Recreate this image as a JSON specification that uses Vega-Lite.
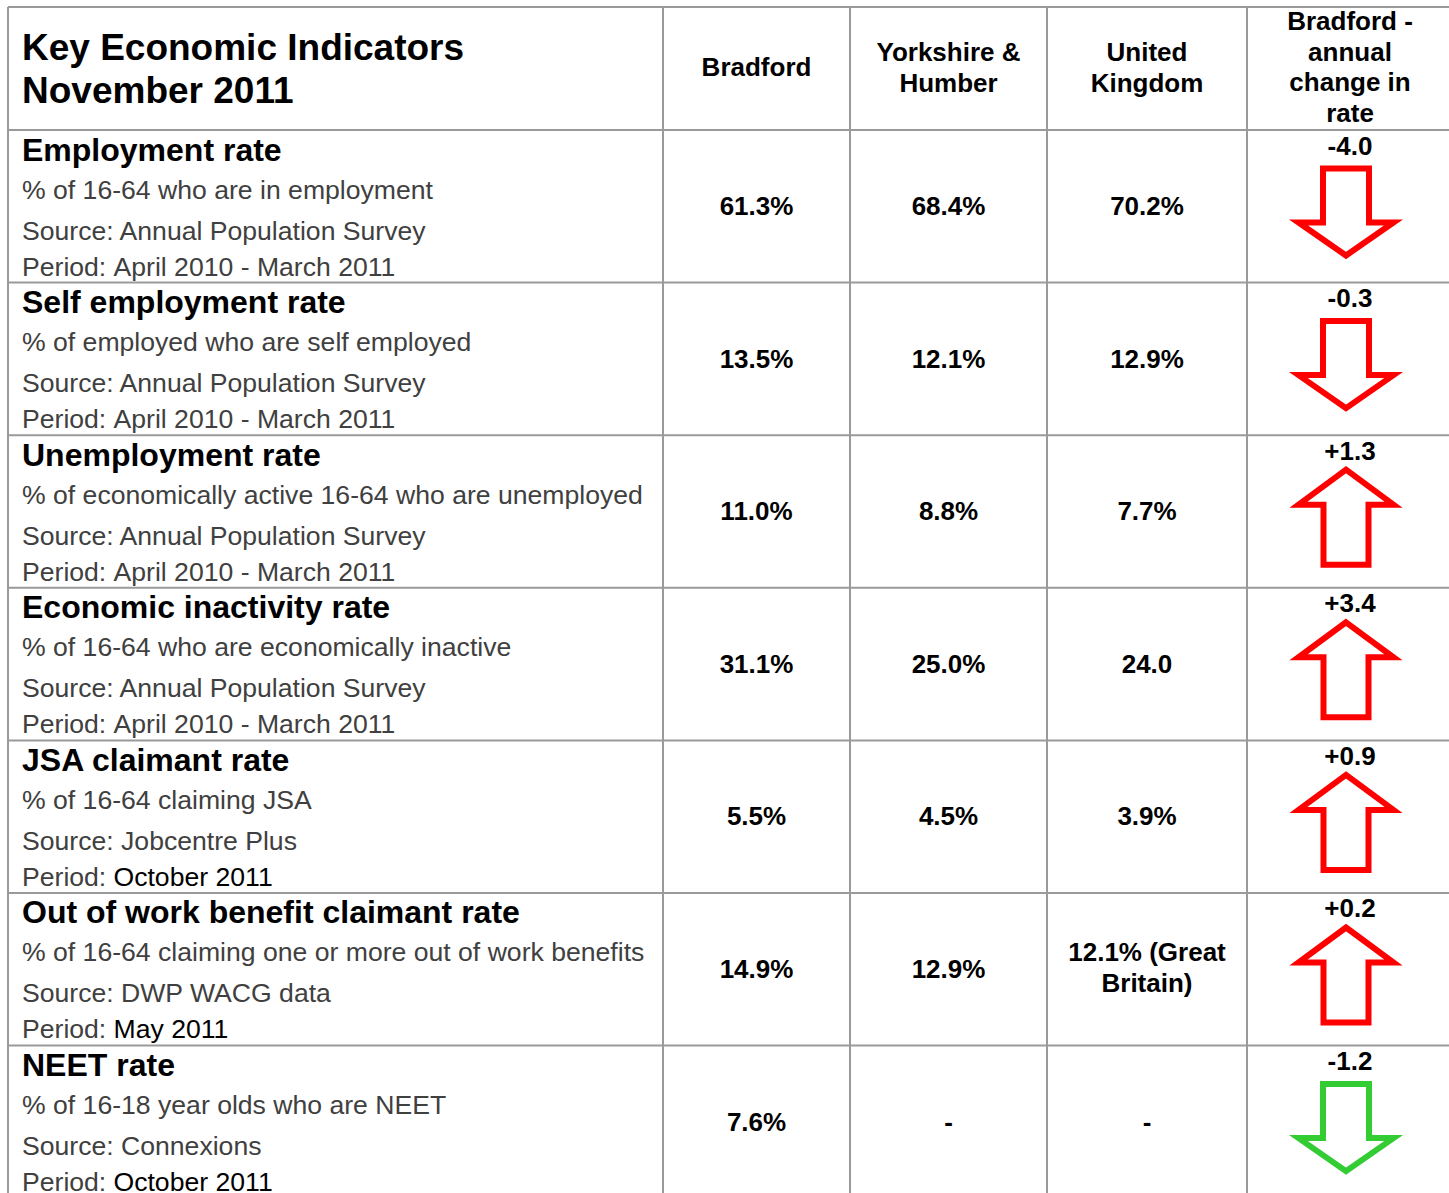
{
  "$schema": "https://vega.github.io/schema/vega-lite/v6.json",
  "width": 1449,
  "height": 1193,
  "autosize": {"type": "none"},
  "padding": 0,
  "background": "white",
  "config": {"view": {"stroke": null}, "text": {"font": "Liberation Sans"}},
  "datasets": {
    "columns": [
      {"column": "Indicator", "left": 8, "center": 335, "header": ["Key Economic Indicators", "November 2011"]},
      {"column": "Bradford", "left": 663, "center": 756.5, "header": ["Bradford"]},
      {"column": "Yorkshire & Humber", "left": 850, "center": 948.5, "header": ["Yorkshire &", "Humber"]},
      {"column": "United Kingdom", "left": 1047, "center": 1147, "header": ["United", "Kingdom"]},
      {"column": "change", "left": 1247, "center": 1350, "header": ["Bradford -", "annual", "change in", "rate"]}
    ],
    "rules": [
      {"x": 8, "x2": 1449, "y": 0.194, "y2": 0.194},
      {"x": 8, "x2": 1449, "y": 1, "y2": 1},
      {"x": 8, "x2": 1449, "y": 2, "y2": 2},
      {"x": 8, "x2": 1449, "y": 3, "y2": 3},
      {"x": 8, "x2": 1449, "y": 4, "y2": 4},
      {"x": 8, "x2": 1449, "y": 5, "y2": 5},
      {"x": 8, "x2": 1449, "y": 6, "y2": 6},
      {"x": 8, "x2": 1449, "y": 7, "y2": 7},
      {"x": 8, "x2": 8, "y": 0.194, "y2": 7.966},
      {"x": 663, "x2": 663, "y": 0.194, "y2": 7.966},
      {"x": 850, "x2": 850, "y": 0.194, "y2": 7.966},
      {"x": 1047, "x2": 1047, "y": 0.194, "y2": 7.966},
      {"x": 1247, "x2": 1247, "y": 0.194, "y2": 7.966}
    ],
    "indicators": [
      {"row": 1, "title": "Employment rate", "desc": "% of 16-64 who are in employment", "source": "Source: Annual Population Survey", "period": "April 2010 - March 2011", "Bradford": "61.3%", "Yorkshire & Humber": "68.4%", "United Kingdom": "70.2%", "change": "-4.0", "direction": "down", "assessment": "worse"},
      {"row": 2, "title": "Self employment rate", "desc": "% of employed who are self employed", "source": "Source: Annual Population Survey", "period": "April 2010 - March 2011", "Bradford": "13.5%", "Yorkshire & Humber": "12.1%", "United Kingdom": "12.9%", "change": "-0.3", "direction": "down", "assessment": "worse"},
      {"row": 3, "title": "Unemployment rate", "desc": "% of economically active 16-64 who are unemployed", "source": "Source: Annual Population Survey", "period": "April 2010 - March 2011", "Bradford": "11.0%", "Yorkshire & Humber": "8.8%", "United Kingdom": "7.7%", "change": "+1.3", "direction": "up", "assessment": "worse"},
      {"row": 4, "title": "Economic inactivity rate", "desc": "% of 16-64 who are economically inactive", "source": "Source: Annual Population Survey", "period": "April 2010 - March 2011", "Bradford": "31.1%", "Yorkshire & Humber": "25.0%", "United Kingdom": "24.0", "change": "+3.4", "direction": "up", "assessment": "worse"},
      {"row": 5, "title": "JSA claimant rate", "desc": "% of 16-64 claiming JSA", "source": "Source: Jobcentre Plus", "period": "October 2011", "Bradford": "5.5%", "Yorkshire & Humber": "4.5%", "United Kingdom": "3.9%", "change": "+0.9", "direction": "up", "assessment": "worse"},
      {"row": 6, "title": "Out of work benefit claimant rate", "desc": "% of 16-64 claiming one or more out of work benefits", "source": "Source: DWP WACG data", "period": "May 2011", "Bradford": "14.9%", "Yorkshire & Humber": "12.9%", "United Kingdom": ["12.1% (Great", "Britain)"], "change": "+0.2", "direction": "up", "assessment": "worse"},
      {"row": 7, "title": "NEET rate", "desc": "% of 16-18 year olds who are NEET", "source": "Source: Connexions", "period": "October 2011", "Bradford": "7.6%", "Yorkshire & Humber": "-", "United Kingdom": "-", "change": "-1.2", "direction": "down", "assessment": "better"}
    ]
  },
  "layer": [
    {
      "data": {"name": "rules"},
      "mark": {"type": "rule", "stroke": "#9a9a9a", "strokeWidth": 2},
      "encoding": {
        "x": {"field": "x", "type": "quantitative", "scale": {"domain": [0, 1449], "nice": false, "zero": false}, "axis": null},
        "x2": {"field": "x2"},
        "y": {"field": "y", "type": "quantitative", "scale": {"domain": [0.148, 7.966], "nice": false, "zero": false, "reverse": true}, "axis": null},
        "y2": {"field": "y2"}
      }
    },
    {
      "data": {"name": "columns"},
      "transform": [{"filter": "datum.column === 'Indicator'"}],
      "mark": {"type": "text", "align": "left", "baseline": "middle", "fontSize": 37, "fontWeight": "bold", "lineHeight": 43, "xOffset": 14, "yOffset": -81, "color": "#000000"},
      "encoding": {
        "x": {"field": "left", "type": "quantitative", "scale": {"domain": [0, 1449], "nice": false, "zero": false}, "axis": null},
        "y": {"datum": 1, "type": "quantitative", "scale": {"domain": [0.148, 7.966], "nice": false, "zero": false, "reverse": true}, "axis": null},
        "text": {"field": "header"}
      }
    },
    {
      "data": {"name": "columns"},
      "transform": [{"filter": "datum.column !== 'Indicator' && length(datum.header) == 1"}],
      "mark": {"type": "text", "align": "center", "baseline": "middle", "fontSize": 26, "fontWeight": "bold", "lineHeight": 30.5, "yOffset": -62, "color": "#000000"},
      "encoding": {
        "x": {"field": "center", "type": "quantitative", "scale": {"domain": [0, 1449], "nice": false, "zero": false}, "axis": null},
        "y": {"datum": 1, "type": "quantitative", "scale": {"domain": [0.148, 7.966], "nice": false, "zero": false, "reverse": true}, "axis": null},
        "text": {"field": "header"}
      }
    },
    {
      "data": {"name": "columns"},
      "transform": [{"filter": "datum.column !== 'Indicator' && length(datum.header) == 2"}],
      "mark": {"type": "text", "align": "center", "baseline": "middle", "fontSize": 26, "fontWeight": "bold", "lineHeight": 30.5, "yOffset": -77, "color": "#000000"},
      "encoding": {
        "x": {"field": "center", "type": "quantitative", "scale": {"domain": [0, 1449], "nice": false, "zero": false}, "axis": null},
        "y": {"datum": 1, "type": "quantitative", "scale": {"domain": [0.148, 7.966], "nice": false, "zero": false, "reverse": true}, "axis": null},
        "text": {"field": "header"}
      }
    },
    {
      "data": {"name": "columns"},
      "transform": [{"filter": "datum.column !== 'Indicator' && length(datum.header) == 4"}],
      "mark": {"type": "text", "align": "center", "baseline": "middle", "fontSize": 26, "fontWeight": "bold", "lineHeight": 30.5, "yOffset": -108, "color": "#000000"},
      "encoding": {
        "x": {"field": "center", "type": "quantitative", "scale": {"domain": [0, 1449], "nice": false, "zero": false}, "axis": null},
        "y": {"datum": 1, "type": "quantitative", "scale": {"domain": [0.148, 7.966], "nice": false, "zero": false, "reverse": true}, "axis": null},
        "text": {"field": "header"}
      }
    },
    {
      "data": {"name": "indicators"},
      "mark": {"type": "text", "align": "left", "baseline": "middle", "fontSize": 32, "fontWeight": "bold", "xOffset": 14, "yOffset": 20.5, "color": "#000000"},
      "encoding": {
        "x": {"datum": 8, "type": "quantitative", "scale": {"domain": [0, 1449], "nice": false, "zero": false}, "axis": null},
        "y": {"field": "row", "type": "quantitative", "scale": {"domain": [0.148, 7.966], "nice": false, "zero": false, "reverse": true}, "axis": null},
        "text": {"field": "title"}
      }
    },
    {
      "data": {"name": "indicators"},
      "mark": {"type": "text", "align": "left", "baseline": "middle", "fontSize": 26.6, "xOffset": 14, "yOffset": 60.5, "color": "#404040"},
      "encoding": {
        "x": {"datum": 8, "type": "quantitative", "scale": {"domain": [0, 1449], "nice": false, "zero": false}, "axis": null},
        "y": {"field": "row", "type": "quantitative", "scale": {"domain": [0.148, 7.966], "nice": false, "zero": false, "reverse": true}, "axis": null},
        "text": {"field": "desc"}
      }
    },
    {
      "data": {"name": "indicators"},
      "mark": {"type": "text", "align": "left", "baseline": "middle", "fontSize": 26.6, "xOffset": 14, "yOffset": 101.5, "color": "#404040"},
      "encoding": {
        "x": {"datum": 8, "type": "quantitative", "scale": {"domain": [0, 1449], "nice": false, "zero": false}, "axis": null},
        "y": {"field": "row", "type": "quantitative", "scale": {"domain": [0.148, 7.966], "nice": false, "zero": false, "reverse": true}, "axis": null},
        "text": {"field": "source"}
      }
    },
    {
      "data": {"name": "indicators"},
      "mark": {"type": "text", "align": "left", "baseline": "middle", "fontSize": 26.6, "xOffset": 14, "yOffset": 137.5, "color": "#404040"},
      "encoding": {
        "x": {"datum": 8, "type": "quantitative", "scale": {"domain": [0, 1449], "nice": false, "zero": false}, "axis": null},
        "y": {"field": "row", "type": "quantitative", "scale": {"domain": [0.148, 7.966], "nice": false, "zero": false, "reverse": true}, "axis": null},
        "text": {"value": "Period:"}
      }
    },
    {
      "data": {"name": "indicators"},
      "mark": {"type": "text", "align": "left", "baseline": "middle", "fontSize": 26.6, "xOffset": 105.5, "yOffset": 137.5},
      "encoding": {
        "x": {"datum": 8, "type": "quantitative", "scale": {"domain": [0, 1449], "nice": false, "zero": false}, "axis": null},
        "y": {"field": "row", "type": "quantitative", "scale": {"domain": [0.148, 7.966], "nice": false, "zero": false, "reverse": true}, "axis": null},
        "text": {"field": "period"},
        "color": {"condition": {"test": "indexof(datum.source, 'Annual Population Survey') >= 0", "value": "#404040"}, "value": "#000000"}
      }
    },
    {
      "data": {"name": "indicators"},
      "transform": [
        {"fold": ["Bradford", "Yorkshire & Humber", "United Kingdom"], "as": ["column", "figure"]},
        {"filter": "!isArray(datum.figure)"},
        {"lookup": "column", "from": {"data": {"name": "columns"}, "key": "column", "fields": ["center"]}}
      ],
      "mark": {"type": "text", "align": "center", "baseline": "middle", "fontSize": 26, "fontWeight": "bold", "yOffset": 77, "color": "#000000"},
      "encoding": {
        "x": {"field": "center", "type": "quantitative", "scale": {"domain": [0, 1449], "nice": false, "zero": false}, "axis": null},
        "y": {"field": "row", "type": "quantitative", "scale": {"domain": [0.148, 7.966], "nice": false, "zero": false, "reverse": true}, "axis": null},
        "text": {"field": "figure"}
      }
    },
    {
      "data": {"name": "indicators"},
      "transform": [
        {"fold": ["Bradford", "Yorkshire & Humber", "United Kingdom"], "as": ["column", "figure"]},
        {"filter": "isArray(datum.figure)"},
        {"lookup": "column", "from": {"data": {"name": "columns"}, "key": "column", "fields": ["center"]}}
      ],
      "mark": {"type": "text", "align": "center", "baseline": "middle", "fontSize": 26, "fontWeight": "bold", "lineHeight": 31, "yOffset": 60.5, "color": "#000000"},
      "encoding": {
        "x": {"field": "center", "type": "quantitative", "scale": {"domain": [0, 1449], "nice": false, "zero": false}, "axis": null},
        "y": {"field": "row", "type": "quantitative", "scale": {"domain": [0.148, 7.966], "nice": false, "zero": false, "reverse": true}, "axis": null},
        "text": {"field": "figure"}
      }
    },
    {
      "data": {"name": "indicators"},
      "transform": [
        {"fold": ["change"], "as": ["column", "figure"]},
        {"lookup": "column", "from": {"data": {"name": "columns"}, "key": "column", "fields": ["center"]}}
      ],
      "mark": {"type": "text", "align": "center", "baseline": "middle", "fontSize": 26, "fontWeight": "bold", "yOffset": 16.5, "color": "#000000"},
      "encoding": {
        "x": {"field": "center", "type": "quantitative", "scale": {"domain": [0, 1449], "nice": false, "zero": false}, "axis": null},
        "y": {"field": "row", "type": "quantitative", "scale": {"domain": [0.148, 7.966], "nice": false, "zero": false, "reverse": true}, "axis": null},
        "text": {"field": "figure"}
      }
    },
    {
      "data": {"name": "indicators"},
      "transform": [
        {"fold": ["change"], "as": ["column", "figure"]},
        {"lookup": "column", "from": {"data": {"name": "columns"}, "key": "column", "fields": ["center"]}}
      ],
      "mark": {"type": "point", "filled": true, "fill": "#ffffff", "opacity": 1, "size": 10000, "strokeWidth": 6, "strokeJoin": "miter", "xOffset": -4, "yOffset": 82},
      "encoding": {
        "x": {"field": "center", "type": "quantitative", "scale": {"domain": [0, 1449], "nice": false, "zero": false}, "axis": null},
        "y": {"field": "row", "type": "quantitative", "scale": {"domain": [0.148, 7.966], "nice": false, "zero": false, "reverse": true}, "axis": null},
        "shape": {"field": "direction", "type": "nominal", "scale": {"domain": ["up", "down"], "range": ["M0,-0.95L0.95,-0.25L0.45,-0.25L0.45,0.95L-0.45,0.95L-0.45,-0.25L-0.95,-0.25Z", "M-0.46,-0.87L0.46,-0.87L0.46,0.21L0.95,0.21L0,0.87L-0.95,0.21L-0.46,0.21Z"]}, "legend": null},
        "stroke": {"field": "assessment", "type": "nominal", "scale": {"domain": ["worse", "better"], "range": ["#ff0000", "#33cc33"]}, "legend": null}
      }
    }
  ]
}
